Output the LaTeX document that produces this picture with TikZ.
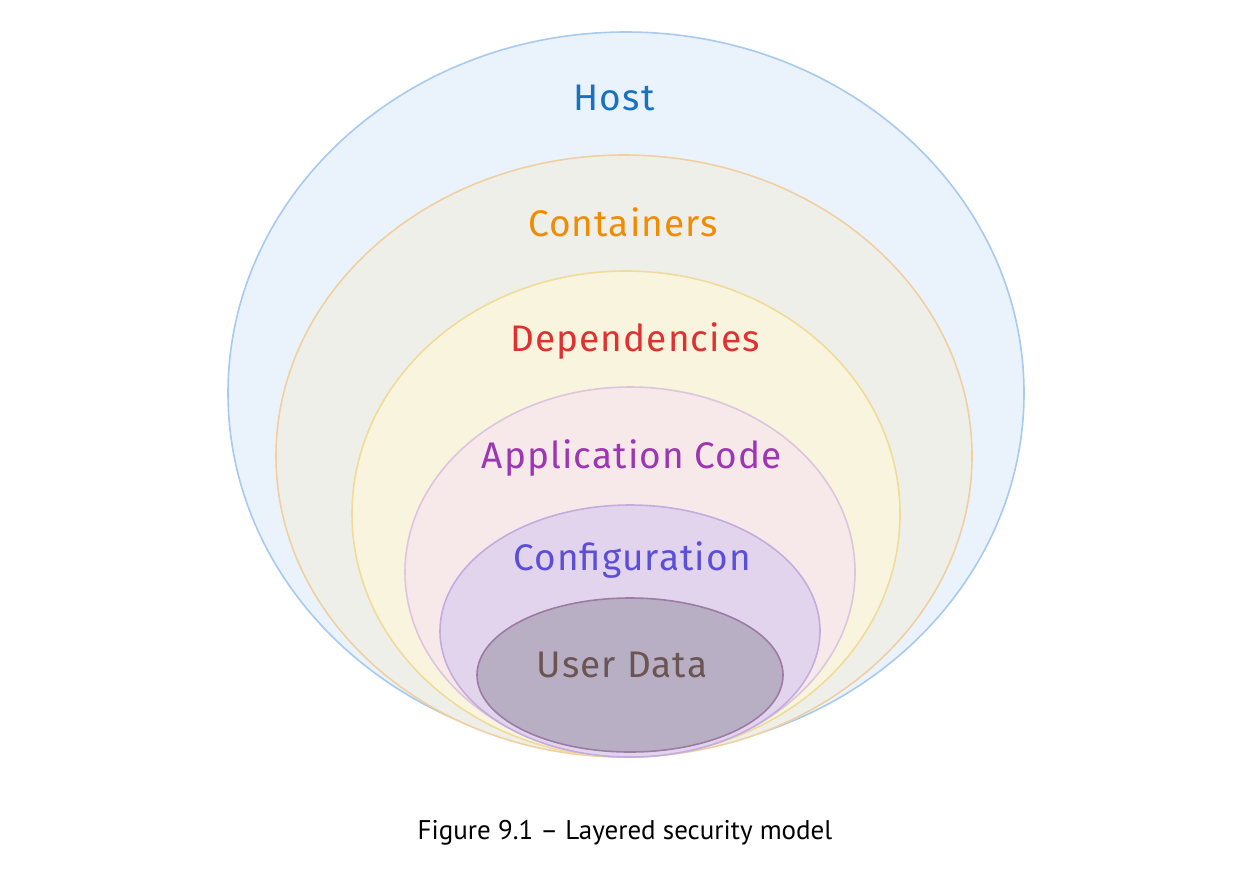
\documentclass[tikz,border=0pt]{standalone}
\usepackage{fontspec}
\setmainfont{PT Sans}
\newfontfamily\hand{Fira Sans}[LetterSpace=3]
\definecolor{hostfill}{HTML}{EAF3FC}
\definecolor{hoststroke}{HTML}{A8CAEE}
\definecolor{hosttext}{HTML}{1971C2}
\definecolor{contfill}{HTML}{EFEFEA}
\definecolor{contstroke}{HTML}{F0CFA0}
\definecolor{conttext}{HTML}{F08C00}
\definecolor{depfill}{HTML}{F8F4DE}
\definecolor{depstroke}{HTML}{F0DC98}
\definecolor{deptext}{HTML}{E03131}
\definecolor{appfill}{HTML}{F7E9EA}
\definecolor{appstroke}{HTML}{DCC6DC}
\definecolor{apptext}{HTML}{9C36B5}
\definecolor{cfgfill}{HTML}{E3D4EE}
\definecolor{cfgstroke}{HTML}{C4ACDC}
\definecolor{cfgtext}{HTML}{5B4FD9}
\definecolor{udfill}{HTML}{B9AFC5}
\definecolor{udstroke}{HTML}{9C7CA4}
\definecolor{udtext}{HTML}{6B5552}
\begin{document}
\begin{tikzpicture}[x=1pt,y=-1pt,
  layer/.style={line width=1.6pt},
  lbl/.style={font=\hand\fontsize{37}{42}\selectfont, inner sep=0pt}]
\useasboundingbox (0,0) rectangle (1246,868);
\fill[white] (0,0) rectangle (1246,868);
\draw[layer, fill=hostfill, draw=hoststroke] (626,393) ellipse [x radius=398, y radius=361];
\draw[layer, fill=contfill, draw=contstroke] (624,456) ellipse [x radius=348, y radius=301];
\draw[layer, fill=depfill, draw=depstroke] (626,514) ellipse [x radius=274, y radius=243];
\draw[layer, fill=appfill, draw=appstroke] (630,572) ellipse [x radius=225, y radius=185];
\draw[layer, fill=cfgfill, draw=cfgstroke] (630,631) ellipse [x radius=190, y radius=126];
\draw[layer, fill=udfill, draw=udstroke] (630,675) ellipse [x radius=153, y radius=77];
\node[lbl, text=hosttext] (host) at (614,98) {Host};
\node[lbl, text=conttext] (cont) at (623,222) {Containers};
\node[lbl, text=deptext] (dep) at (635,341) {Dependencies};
\node[lbl, text=apptext] (app) at (632,458) {Application Code};
\node[lbl, text=cfgtext] (cfg) at (632,560) {Configuration};
\node[lbl, text=udtext] (ud) at (622,665) {User Data};
\node[font=\fontsize{27}{31}\selectfont, inner sep=0pt] (cap) at (625,833) {Figure 9.1 – Layered security model};
\end{tikzpicture}
\end{document}
